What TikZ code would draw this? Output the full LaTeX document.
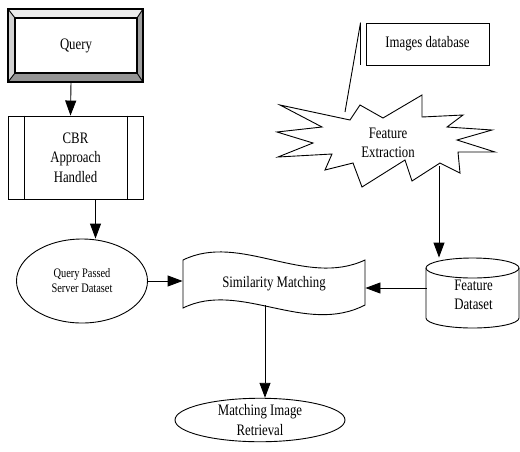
\documentclass[tikz,border=0pt]{standalone}
\usepackage{fontspec}
\setmainfont{Liberation Serif}[FakeStretch=0.8]
\usetikzlibrary{arrows.meta,shapes.geometric}

\begin{document}
\begin{tikzpicture}[x=1pt,y=-1pt,line width=0.9pt,
    every node/.style={font=\fontsize{16}{19.5}\selectfont,align=center,inner sep=0pt},
    arr/.style={-{Triangle[length=15pt,width=11pt]}},
    plainbox/.style={draw,rectangle}]
  \useasboundingbox (0,0) rectangle (520,451);

  % bevelled query box
  \fill[black!8]  (8,9) -- (143,9) -- (137,18) -- (15,18) -- cycle;
  \fill[black!18] (8,9) -- (15,18) -- (15,73) -- (8,82) -- cycle;
  \fill[black!38] (143,9) -- (143,82) -- (137,73) -- (137,18) -- cycle;
  \fill[black!42] (8,82) -- (143,82) -- (137,73) -- (15,73) -- cycle;
  \draw[line width=1.5pt] (8,9) rectangle (143,82);
  \draw (8,9) -- (15,18) (143,9) -- (137,18) (8,82) -- (15,73) (143,82) -- (137,73);
  \node[plainbox,line width=1.3pt,fill=white,minimum width=122pt,minimum height=55pt] (query) at (76,45.5) {Query};

  % predefined process
  \node[plainbox,minimum width=135pt,minimum height=83pt] (cbr) at (75.5,157.5) {CBR\\Approach\\Handled};
  \draw ([xshift=17pt]cbr.north west) -- ([xshift=17pt]cbr.south west);
  \draw ([xshift=-16pt]cbr.north east) -- ([xshift=-16pt]cbr.south east);

  \node[draw,ellipse,minimum width=131pt,minimum height=84pt,
        font=\fontsize{13}{15}\selectfont] (qps) at (82,281) {Query Passed\\Server Dataset};

  % wavy document
  \draw (183,260) .. controls (240,232) and (305,288) .. (365,260) -- (365,305)
        .. controls (305,336) and (240,280) .. (183,308) -- cycle;
  \node[minimum width=182pt,minimum height=42pt] (simm) at (274,284) {Similarity Matching};

  \node[draw,ellipse,minimum width=170pt,minimum height=41pt] (mir) at (260,420) {Matching Image\\Retrieval};

  % cylinder
  \draw (426,268) -- (426,318) arc[start angle=180,end angle=0,x radius=46.5,y radius=10] -- (519,268);
  \draw (472.5,268) ellipse[x radius=46.5,y radius=10];
  \node[minimum width=93pt,minimum height=74pt] (fdata) at (473.5,295) {Feature\\Dataset};

  % starburst
  \draw (280,105) -- (350,120) -- (360,105) -- (383,118) -- (422,95) -- (422,117)
     -- (463,115) -- (447,127) -- (492,130) -- (457,140) -- (495,152) -- (458,152)
     -- (460,173) -- (440,163) -- (412,181) -- (405,160) -- (362,187) -- (353,163)
     -- (325,170) -- (332,154) -- (278,157) -- (313,143) -- (277,132) -- (322,127) -- cycle;
  \node (fext) at (388,143) {Feature\\Extraction};
  \coordinate (fbot) at (439,166);

  % callout
  \node[plainbox,minimum width=123pt,minimum height=42pt] (imgdb) at (427.5,44) {Images database};
  \coordinate (lead) at (345,112);
  \draw[line width=1.4pt] ([xshift=-5pt]imgdb.north west) -- ([xshift=-5pt]imgdb.south west);
  \draw ([xshift=-5pt]imgdb.north west) -- (lead);

  % connectors
  \draw[arr] ([xshift=-5pt]query.south |- 0,82) -- ([xshift=-5pt]cbr.north);
  \draw[arr] ([xshift=20pt]cbr.south) -- ([xshift=20pt]cbr.south |- qps.north);
  \draw[arr] (qps.east) -- (qps.east -| simm.west);
  \draw[arr] (fbot) -- (fbot |- fdata.north);
  \draw[arr] ([yshift=7pt]fdata.west) -- ([yshift=7pt]fdata.west -| simm.east);
  \draw[arr] ([xshift=-9pt]simm.south) -- ([xshift=-9pt]simm.south |- mir.north);
\end{tikzpicture}
\end{document}
